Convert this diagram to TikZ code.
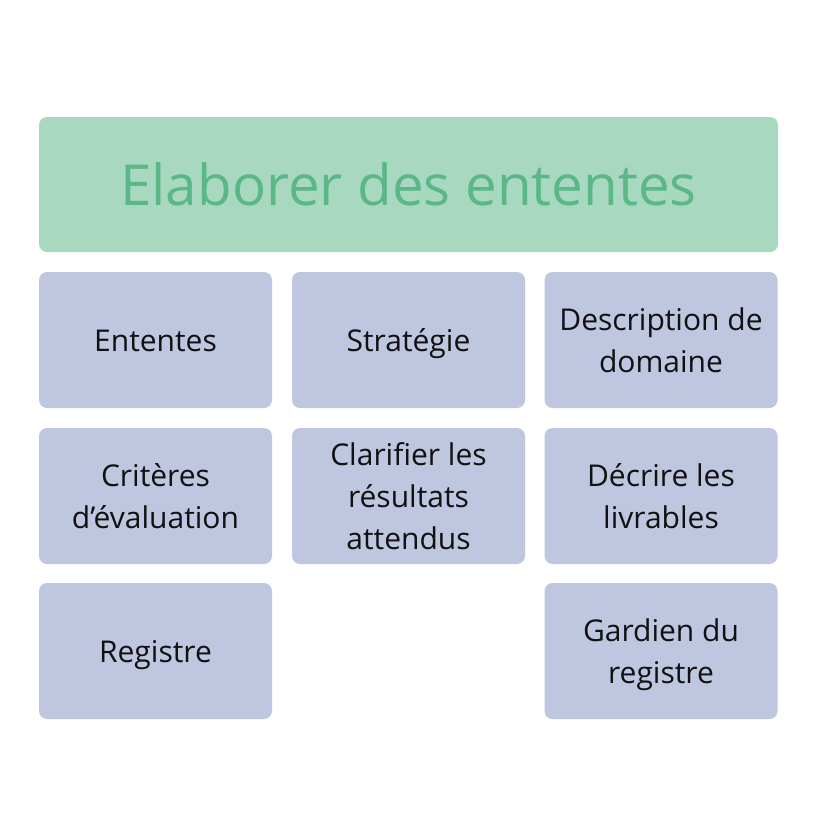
\documentclass[tikz,border=0pt]{standalone}
\usepackage{fontspec}
\setmainfont{Open Sans}
\definecolor{headfill}{HTML}{A9D8C0}
\definecolor{headtext}{HTML}{5AB887}
\definecolor{boxfill}{HTML}{BFC6E0}
\definecolor{boxtext}{HTML}{111111}
\newcommand{\linestrut}{\rule[-9.3pt]{0pt}{42pt}}
\tikzset{
  headbox/.style={fill=headfill, text=headtext, rounded corners=8pt,
    minimum width=739pt, minimum height=135pt, inner sep=0pt,
    font=\fontsize{56.5}{64}\selectfont},
  itembox/.style={fill=boxfill, text=boxtext, rounded corners=8pt,
    minimum width=233pt, minimum height=136pt, inner sep=0pt,
    align=center, font=\fontsize{30}{42}\selectfont}
}
\begin{document}
\begin{tikzpicture}[x=1pt, y=-1pt]
    \useasboundingbox (0, 0) rectangle (816, 836);

    % Title
    \node [headbox] (title) at (408.5, 184.5) {Elaborer des ententes};

    % First row
    \node [itembox] (ententes) at (155.5, 340) {\linestrut Ententes\linestrut};
    \node [itembox] (strategie) at (408.5, 340) {\linestrut Stratégie\linestrut};
    \node [itembox] (domaine) at (661, 340) {\linestrut Description de\\domaine\linestrut};

    % Second row
    \node [itembox] (criteres) at (155.5, 496) {\linestrut Critères\\d’évaluation\linestrut};
    \node [itembox] (resultats) at (408.5, 496) {\linestrut Clarifier les\\résultats\\attendus\linestrut};
    \node [itembox] (livrables) at (661, 496) {\linestrut Décrire les\\livrables\linestrut};

    % Third row
    \node [itembox] (registre) at (155.5, 651) {\linestrut Registre\linestrut};
    \node [itembox] (gardien) at (661, 651) {\linestrut Gardien du\\registre\linestrut};
\end{tikzpicture}
\end{document}
